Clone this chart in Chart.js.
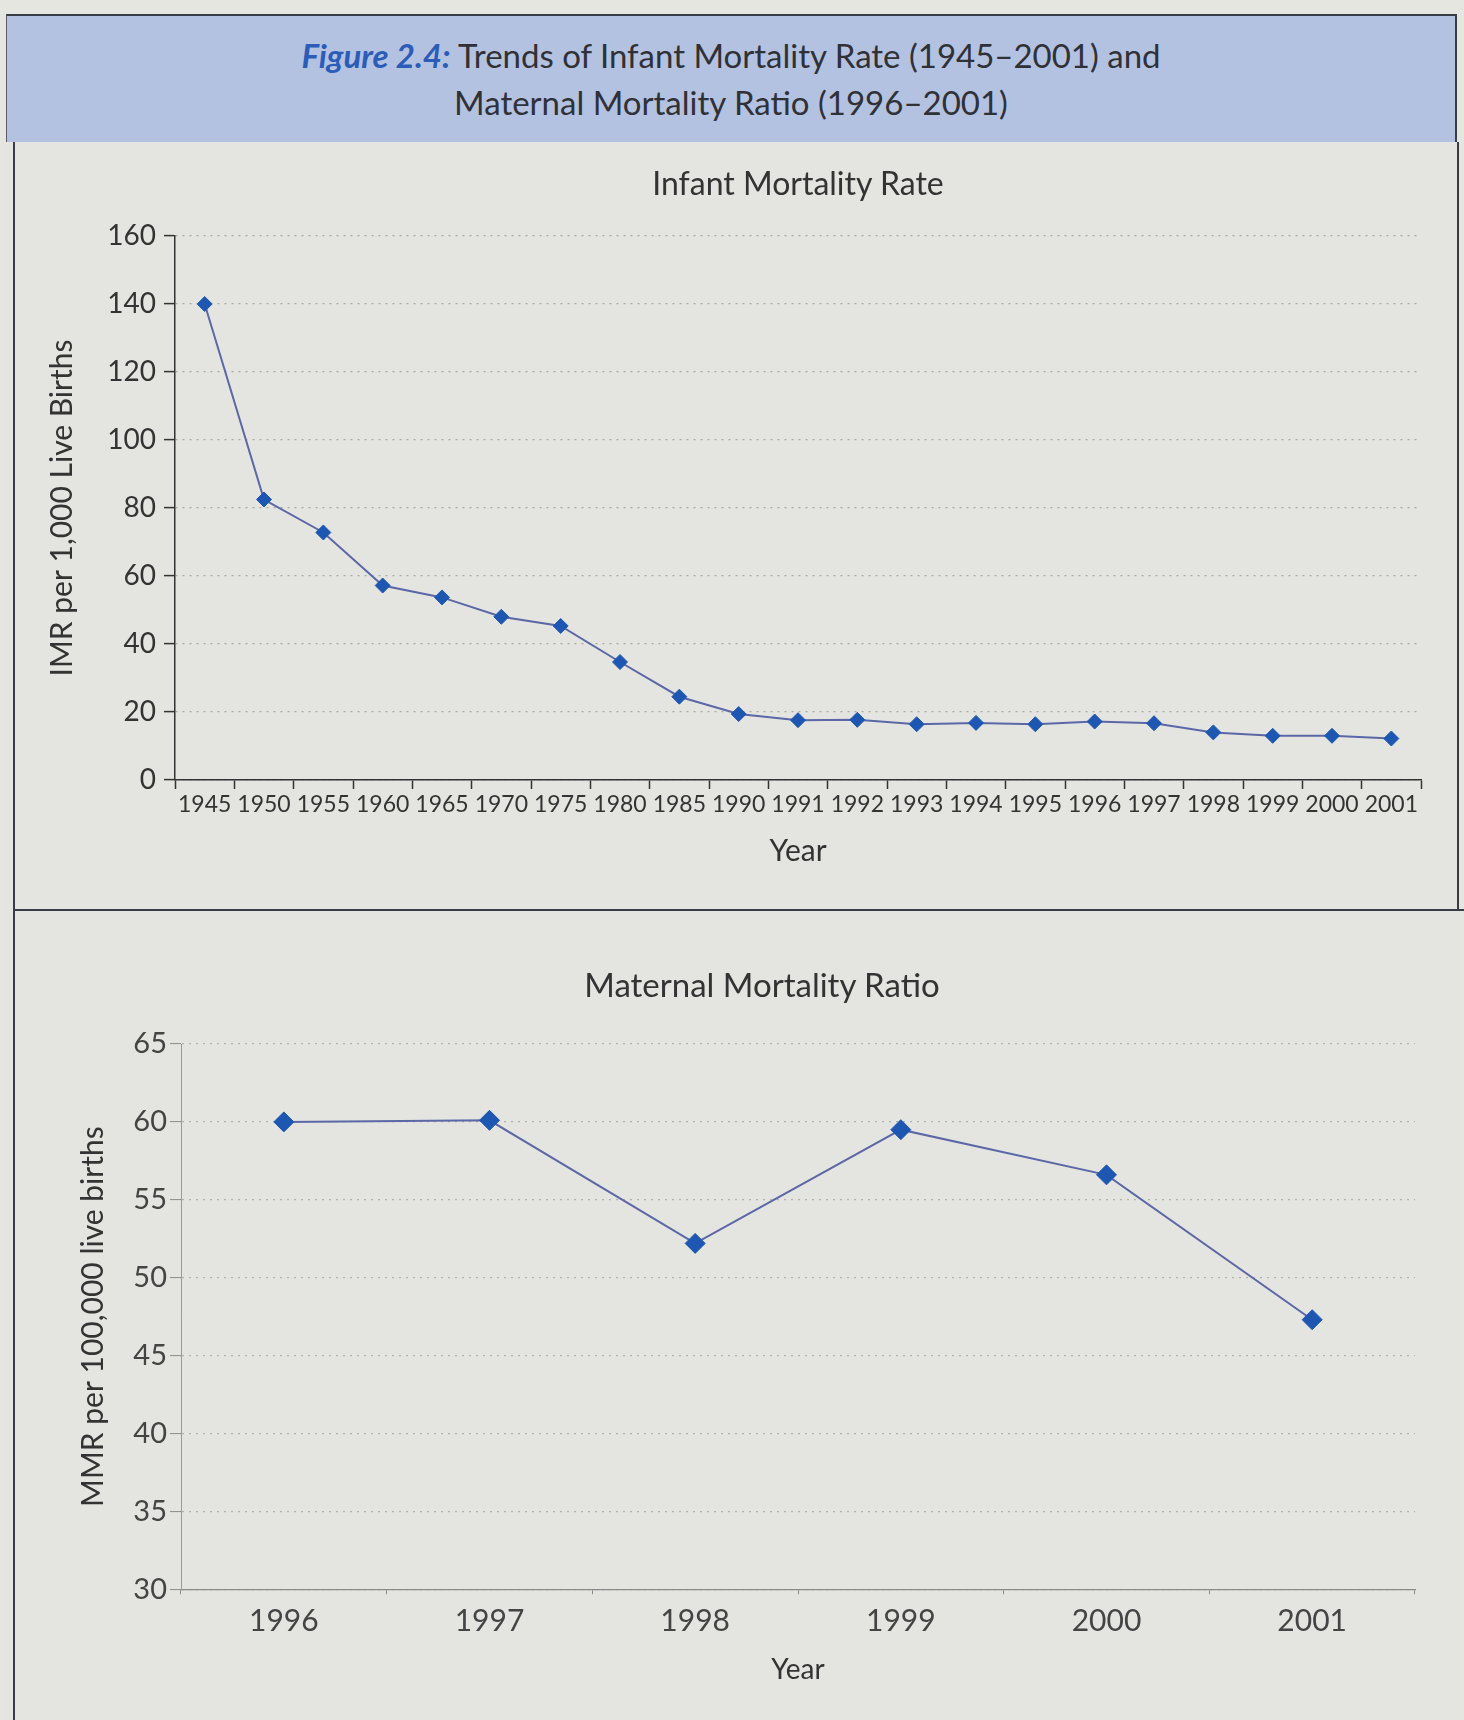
<!DOCTYPE html>
<html>
<head>
<meta charset="utf-8">
<script src="https://cdn.jsdelivr.net/npm/chart.js@4/dist/chart.umd.min.js"></script>
<style>
  html, body { margin:0; padding:0; width:1464px; height:1720px; overflow:hidden; background:#e6e6e1; font-family: Lato, "Open Sans", sans-serif; }
  #header { position:absolute; left:6px; top:14px; width:1451px; height:128px; background:#b4c2e2;
            border-top:2px solid #3a3d45; border-left:1px solid #5a5d66; border-right:2px solid #3a3d45;
            text-align:center; color:#2f3136; font-size:33px; line-height:47px; box-sizing:border-box; padding-top:16px; }
  #header .fig { color:#2a5cb8; font-weight:bold; font-style:italic; }
  #body { position:absolute; left:6px; top:142px; width:1451px; height:1578px; background:#e4e5e0; }
  #lline { position:absolute; left:13px; top:142px; width:2px; height:1578px; background:#3a3d45; }
  #rline { position:absolute; left:1457px; top:142px; width:2px; height:769px; background:#3a3d45; }
  #sep { position:absolute; left:13px; top:909px; width:1451px; height:2px; background:#3a3d45; }
  .ctitle { position:absolute; width:800px; text-align:center; color:#333; font-size:32px; line-height:40px; }
  #t1 { left:398px; top:163px; }
  #t2 { left:362px; top:964px; font-size:33px; }
  canvas { position:absolute; left:0; }
  #c1 { top:142px; }
  #c2 { top:911px; }
</style>
</head>
<body>
<div id="body"></div>
<div id="header"><span class="fig">Figure 2.4:</span> Trends of Infant Mortality Rate (1945–2001) and<br>Maternal Mortality Ratio (1996–2001)</div>
<div id="lline"></div>
<div id="rline"></div>
<div id="sep"></div>
<canvas id="c1" width="1464" height="769"></canvas>
<canvas id="c2" width="1464" height="809"></canvas>
<div class="ctitle" id="t1">Infant Mortality Rate</div>
<div class="ctitle" id="t2">Maternal Mortality Ratio</div>
<script>
// ---- Data ----
const imrYears = ['1945','1950','1955','1960','1965','1970','1975','1980','1985','1990','1991','1992','1993','1994','1995','1996','1997','1998','1999','2000','2001'];
const imrValues = [140, 82.5, 72.8, 57.2, 53.7, 48, 45.3, 34.7, 24.5, 19.4, 17.6, 17.7, 16.4, 16.8, 16.4, 17.2, 16.7, 14, 13, 13, 12.2];
const mmrYears = ['1996','1997','1998','1999','2000','2001'];
const mmrValues = [60, 60.1, 52.2, 59.5, 56.6, 47.3];
const imrTicks = [0, 20, 40, 60, 80, 100, 120, 140, 160];
const mmrTicks = [30, 35, 40, 45, 50, 55, 60, 65];

const FONT = 'Lato, "Open Sans", sans-serif';
const lineColor = '#5b67a6';
const markColor = '#1d57b2';

Chart.defaults.font.family = FONT;
Chart.defaults.color = '#333';

new Chart(document.getElementById('c1'), {
  type: 'line',
  data: {
    labels: imrYears,
    datasets: [{
      data: imrValues,
      borderColor: lineColor, borderWidth: 2,
      pointStyle: 'rectRot', pointRadius: 7.5,
      pointBackgroundColor: markColor, pointBorderColor: markColor, pointBorderWidth: 1,
      tension: 0
    }]
  },
  options: {
    responsive: false, animation: false, devicePixelRatio: 1,
    layout: { padding: { left: 0, right: 43, top: 94, bottom: 42 } },
    plugins: { legend: { display: false }, tooltip: { enabled: false }, title: { display: false } },
    scales: {
      x: {
        type: 'category', offset: true,
        afterFit: s => { s.height = 89; },
        grid: { display: true, drawOnChartArea: false, drawTicks: true, tickLength: 9, offset: true,
                color: '#333', tickColor: '#333', tickWidth: 1.5 },
        border: { display: true, color: '#333', width: 1.5 },
        ticks: { autoSkip: false, maxRotation: 0, minRotation: 0, padding: 2, color: '#333', font: { size: 23 } },
        title: { display: true, text: 'Year', color: '#333', font: { size: 30 }, padding: { top: 0, bottom: 0 } }
      },
      y: {
        min: 0, max: 160,
        afterFit: s => { s.width = 175; },
        afterBuildTicks: s => { s.ticks = imrTicks.map(v => ({ value: v })); },
        grid: { color: '#a8aaa6', lineWidth: 1.2, tickLength: 11, tickColor: '#333', tickWidth: 1.5 },
        border: { display: true, color: '#333', width: 1.5, dash: [2, 5] },
        ticks: { padding: 8, color: '#333', font: { size: 28 } },
        title: { display: true, text: 'IMR per 1,000 Live Births', color: '#333', font: { size: 30 }, padding: { top: 44, bottom: 0 } }
      }
    }
  }
});

new Chart(document.getElementById('c2'), {
  type: 'line',
  data: {
    labels: mmrYears,
    datasets: [{
      data: mmrValues,
      borderColor: lineColor, borderWidth: 2,
      pointStyle: 'rectRot', pointRadius: 10,
      pointBackgroundColor: markColor, pointBorderColor: markColor, pointBorderWidth: 1,
      tension: 0
    }]
  },
  options: {
    responsive: false, animation: false, devicePixelRatio: 1,
    layout: { padding: { left: 0, right: 49, top: 133, bottom: 33 } },
    plugins: { legend: { display: false }, tooltip: { enabled: false }, title: { display: false } },
    scales: {
      x: {
        type: 'category', offset: true,
        afterFit: s => { s.height = 97.8; },
        grid: { display: true, drawOnChartArea: false, drawTicks: true, tickLength: 5, offset: true,
                color: '#8a8a8a', tickColor: '#8a8a8a', tickWidth: 1 },
        border: { display: true, color: '#8a8a8a', width: 1.2 },
        ticks: { autoSkip: false, maxRotation: 0, minRotation: 0, padding: 9, color: '#444', font: { size: 30 } },
        title: { display: true, text: 'Year', color: '#333', font: { size: 28 }, padding: { top: 0, bottom: 0 } }
      },
      y: {
        min: 30, max: 65,
        afterFit: s => { s.width = 181; },
        afterBuildTicks: s => { s.ticks = mmrTicks.map(v => ({ value: v })); },
        grid: { color: '#b0b2ae', lineWidth: 1.2, tickLength: 11, tickColor: '#8a8a8a', tickWidth: 1 },
        border: { display: true, color: '#9a9a9a', width: 1, dash: [2, 5] },
        ticks: { padding: 3, color: '#444', font: { size: 29 } },
        title: { display: true, text: 'MMR per 100,000 live births', color: '#333', font: { size: 30 }, padding: { top: 75, bottom: 0 } }
      }
    }
  }
});
</script>
</body>
</html>
